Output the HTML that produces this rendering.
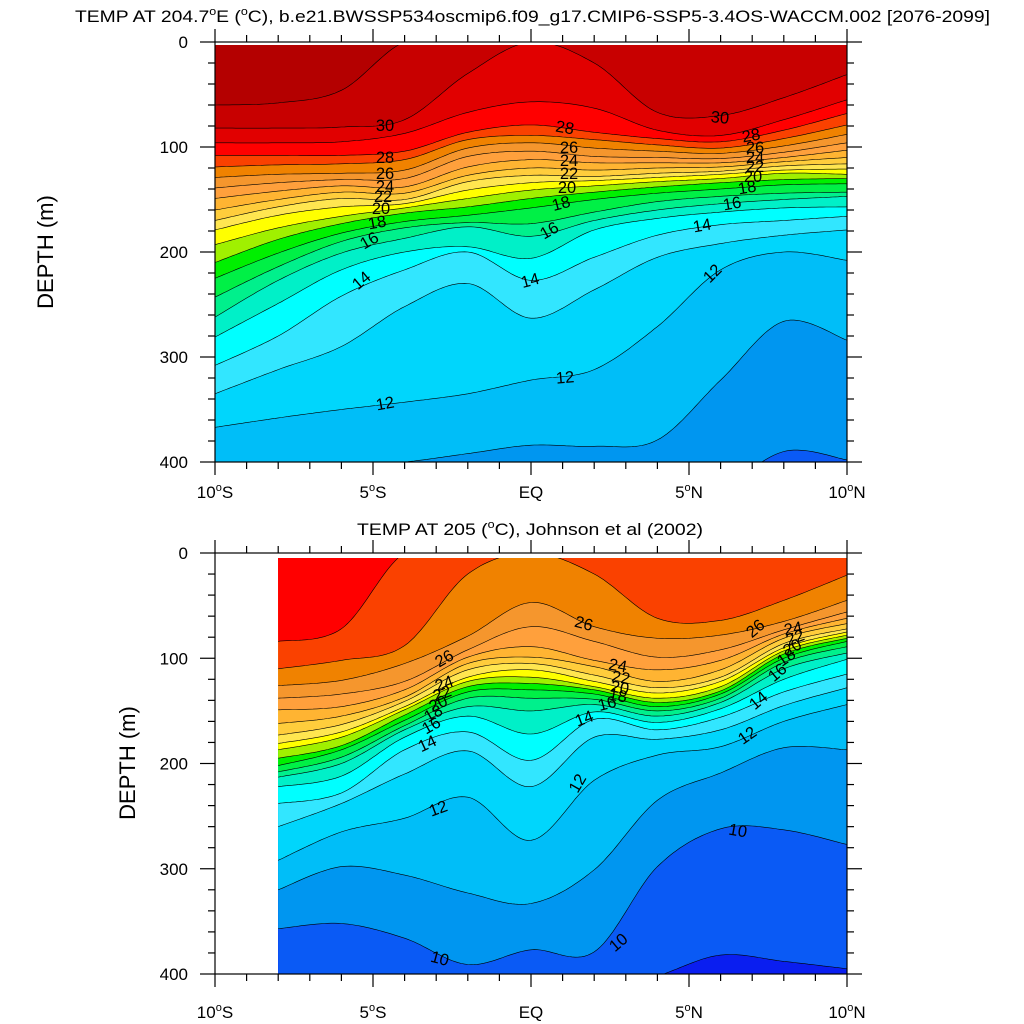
<!DOCTYPE html>
<html><head><meta charset="utf-8"><style>
html,body{margin:0;padding:0;background:#fff;}
svg{display:block;font-family:"Liberation Sans",sans-serif;}
</style></head><body>
<svg id="chart" width="1024" height="1024" viewBox="0 0 1024 1024" xmlns="http://www.w3.org/2000/svg">
<defs>
<clipPath id="clip1"><rect x="215" y="45" width="632" height="417"/></clipPath>
<clipPath id="clip2"><rect x="278" y="558" width="569" height="416"/></clipPath>
</defs>
<rect x="0" y="0" width="1024" height="1024" fill="#fff"/>
<text x="75" y="22" font-size="17" textLength="915" lengthAdjust="spacingAndGlyphs">TEMP AT 204.7<tspan font-size="11" dy="-7">o</tspan><tspan dy="7">E (</tspan><tspan font-size="11" dy="-7">o</tspan><tspan dy="7">C), b.e21.BWSSP534oscmip6.f09_g17.CMIP6-SSP5-3.4OS-WACCM.002 [2076-2099]</tspan></text>
<text x="357" y="535" font-size="17" textLength="346" lengthAdjust="spacingAndGlyphs">TEMP AT 205 (<tspan font-size="11" dy="-7">o</tspan><tspan dy="7">C), Johnson et al (2002)</tspan></text>
<g id="p1"></g>
<g id="p2"></g>
<text transform="translate(53,252) rotate(-90)" text-anchor="middle" font-size="22">DEPTH (m)</text>
<text transform="translate(135,763) rotate(-90)" text-anchor="middle" font-size="22">DEPTH (m)</text>
</svg>
<script>
// ---------- data ----------
const lats1 = [-10,-8,-6,-4,-2,0,2,4,6,8,10];
const lats2 = [-8,-6,-4,-2,0,2,4,6,8,10];
const xTickLabels = ["10°S","5°S","EQ","5°N","10°N"];
const xTickLats = [-10,-5,0,5,10];
const yTicks = [0,100,200,300,400];
// model isotherm depths (m) for each level, at lats1
const m31=[60,58,46,0,0,0,0,0,0,0,0];
const m30=[82,82,81,74,30,0,20,67,70,53,31];
const m29=[96,96,95,87,67,57,63,84,89,74,55];
const m28=[108,108,108,104,86,79,86,92,95,84,68];
const m27=[119,117,116,112,93,89,93,98,101,92,79];
const m26=[129,126,125,122,101,96,101,104,106,99,88];
const m25=[139,134,131,130,109,104,109,110,111,105,96];
const m24=[149,142,137,138,119,112,115,115,115,110,103];
const m23=[160,150,143,144,127,120,122,120,119,114,110];
const m22=[170,157,149,150,133,127,128,125,123,118,116];
const m21=[179,165,157,154,141,134,132,129,126,122,121];
const m20=[193,177,166,158,149,141,137,133,130,125,126];
const m19=[210,188,173,163,157,149,143,138,134,131,130];
const m18=[225,201,182,171,165,158,150,144,140,136,135];
const m17=[243,214,190,177,172,173,162,152,147,144,143];
const m16=[262,227,201,187,176,185,170,160,154,150,147];
const m15=[281,249,217,200,195,206,179,168,162,158,157];
const m14=[308,280,242,217,200,227,205,184,174,170,166];
const m13=[335,312,290,252,230,263,236,205,192,184,179];
const m12=[367,358,350,343,335,322,312,271,217,200,208];
const m11=[417,407,404,400,392,384,385,379,322,266,284];
const m10=[480,480,480,480,480,480,480,480,430,390,398];
// observed isotherm depths (m) at lats2
const o28=[84,72,0,0,0,0,0,0,0,0];
const o27=[110,102,88,20,0,20,62,64,45,21];
const o26=[126,121,105,79,47,70,81,78,65,45];
const o25=[138,134,122,92,70,84,99,92,73,56];
const o24=[149,146,130,99,89,102,111,102,77,62];
const o23=[162,155,137,105,99,108,122,111,81,67];
const o22=[173,163,141,111,105,116,128,118,86,72];
const o21=[181,170,146,118,111,122,133,122,90,75];
const o20=[187,175,149,122,118,127,138,127,93,78];
const o19=[195,183,154,127,124,130,142,131,96,81];
const o18=[202,187,159,132,130,134,146,134,100,84];
const o17=[208,194,164,138,138,139,150,138,104,89];
const o16=[213,200,168,146,150,144,155,142,110,95];
const o15=[222,212,175,155,172,151,161,148,120,101];
const o14=[238,228,187,170,197,158,168,156,132,115];
const o13=[260,238,210,188,222,175,177,168,145,128];
const o12=[292,265,252,232,273,216,192,184,160,144];
const o11=[320,298,306,323,333,301,235,209,185,187];
const o10=[357,352,366,391,377,379,298,262,263,277];
const o9=[420,420,420,420,420,420,402,382,388,395];
const modelLevels=[10,11,12,13,14,15,16,17,18,19,20,21,22,23,24,25,26,27,28,29,30,31];
const obsLevels=[9,10,11,12,13,14,15,16,17,18,19,20,21,22,23,24,25,26,27,28];
// colour of band [T, T+1)
const bandColors={8:"#0a1ef0",9:"#0a5af5",10:"#0096f0",11:"#00bef8",12:"#00d6fc",13:"#32e6ff",14:"#00ffff",15:"#00f0c8",16:"#00f08c",17:"#00f046",18:"#00f000",19:"#a0f000",20:"#ffff00",21:"#ffe650",22:"#ffcd3c",23:"#ffb432",24:"#ffa03c",25:"#f5962d",26:"#f08200",27:"#fa4100",28:"#ff0000",29:"#e10000",30:"#c80000",31:"#b40000"};
// contour labels [text, x, y, rotation]
const labels1=[["30",385,125,0],["30",720,117,5],["28",385,157,0],["28",565,127,10],["28",751,135,-10],["26",385,173,0],["26",569,147,0],["26",755,147,0],["24",385,186,0],["24",569,160,0],["24",755,157,0],["22",383,196,0],["22",569,173,0],["22",755,166,0],["20",381,208,0],["20",567,187,0],["20",753,176,0],["18",377,222,-10],["18",561,203,-15],["18",747,187,-10],["16",369,240,-30],["16",549,230,-30],["16",732,203,-10],["14",702,225,-10],["14",361,280,-40],["14",530,280,-15],["12",385,403,-10],["12",565,377,-5],["12",712,273,-45]];
const labels2=[["26",444,658,-30],["26",584,623,15],["26",755,628,-40],["24",444,683,-20],["24",618,665,10],["24",793,628,-10],["22",442,693,-20],["22",621,677,10],["22",795,637,-20],["20",438,703,-25],["20",620,687,10],["20",792,647,-30],["18",433,713,-30],["18",618,695,10],["18",786,657,-35],["16",431,725,-30],["16",607,703,-15],["16",777,672,-40],["14",427,743,-25],["14",584,718,-20],["14",758,700,-40],["12",747,735,-35],["12",438,808,-20],["12",577,783,-60],["10",738,830,10],["10",618,942,-40],["10",440,958,15]];

// ---------- drawing ----------
const NS="http://www.w3.org/2000/svg";
const xScale = lat => 215 + 31.6*(lat+10);
function mk(tag, attrs, parent){const e=document.createElementNS(NS,tag);for(const k in attrs)e.setAttribute(k,attrs[k]);parent.appendChild(e);return e;}
function curvePts(lats, depths, yScale, yTop, yBot){
  const P=lats.map((l,i)=>[xScale(l), yScale(depths[i])]);
  const out=[];
  for(let i=0;i<P.length-1;i++){
    const p0=P[Math.max(0,i-1)],p1=P[i],p2=P[i+1],p3=P[Math.min(P.length-1,i+2)];
    for(let s=0;s<20;s++){
      const t=s/20,t2=t*t,t3=t2*t;
      const f=(a,b,c,d)=>0.5*((2*b)+(-a+c)*t+(2*a-5*b+4*c-d)*t2+(-a+3*b-3*c+d)*t3);
      let x=f(p0[0],p1[0],p2[0],p3[0]), y=f(p0[1],p1[1],p2[1],p3[1]);
      y=Math.max(yTop-3,Math.min(yBot+30,y));
      out.push([x,y]);
    }
  }
  const last=P[P.length-1];out.push([last[0],Math.max(yTop-3,Math.min(yBot+30,last[1]))]);
  return out;
}
function drawPanel(g, cfg){
  const {lats, levels, sets, yScale, clip, x0, x1, yTop, yBot, baseBand, labels} = cfg;
  const fills=mk('g',{'clip-path':'url(#'+clip+')'},g);
  
  
  const base=mk('rect',{x:x0,y:yTop,width:x1-x0,height:yBot-yTop,fill:bandColors[baseBand]},fills);
  
  
  const lines=[];
  levels.forEach((T,i)=>{
    const pts=curvePts(lats, sets[i], yScale, yTop, yBot);
    let d='M'+x0+','+(yTop-5)+' '+pts.map(p=>'L'+p[0].toFixed(1)+','+p[1].toFixed(1)).join(' ')+' L'+x1+','+(yTop-5)+'Z';
    const band=mk('path',{d:d,fill:bandColors[T]},fills);
    
    
    lines.push([T,'M'+pts.map(p=>p[0].toFixed(1)+','+p[1].toFixed(1)).join(' L')]);
  });
  const lg=mk('g',{'clip-path':'url(#'+clip+')',fill:'none',stroke:'#000','stroke-width':'0.6'},g);
  
  
  lines.forEach(([T,d])=>{
    const c=mk('path',{d:d},lg);
    
    
  });
  labels.forEach(([t,x,y,r])=>{
    const tx=mk('text',{x:x,y:y+6,'font-size':'16.5','text-anchor':'middle',transform:'rotate('+r+' '+x+' '+y+')'},g);
    tx.textContent=t;
    
    
  });
}
function drawAxes(g, yScale, yFrame0, yFrame1, xLabelY){
  const ax=mk('g',{stroke:'#000','stroke-width':'1.2',fill:'none'},g);
  
  
  const fr=mk('rect',{x:215,y:yFrame0,width:632,height:yFrame1-yFrame0},ax);
  
  
  for(let lat=-10;lat<=10;lat++){
    const x=xScale(lat), L=(lat%5===0)?13:7;
    mk('line',{x1:x,y1:yFrame1,x2:x,y2:yFrame1+L},ax);
    mk('line',{x1:x,y1:yFrame0,x2:x,y2:yFrame0-L},ax);
  }
  for(let dd=0;dd<=400;dd+=20){
    const y=yScale(dd), L=(dd%100===0)?15:7;
    mk('line',{x1:215,y1:y,x2:215-L,y2:y},ax);
    mk('line',{x1:847,y1:y,x2:847+L,y2:y},ax);
  }
  yTicks.forEach(v=>{
    const t=mk('text',{x:188,y:yScale(v)+6,'font-size':'17','text-anchor':'end'},g);
    t.textContent=String(v);
    
    
  });
  xTickLats.forEach((lat,i)=>{
    const s=xTickLabels[i];
    const t=mk('text',{x:xScale(lat),y:xLabelY,'font-size':'17','text-anchor':'middle'},g);
    if(s.indexOf('°')>=0){
      const parts=s.split('°');
      const a=mk('tspan',{},t);a.textContent=parts[0];
      const b=mk('tspan',{'font-size':'11',dy:'-7'},t);b.textContent='o';
      const c=mk('tspan',{dy:'7'},t);c.textContent=parts[1];
    } else t.textContent=s;
    
    
  });
}
const y1=d=>42+1.05*d;
const y2=d=>553+1.0525*d;
drawPanel(document.getElementById('p1'),{lats:lats1,levels:modelLevels,
  sets:[m10,m11,m12,m13,m14,m15,m16,m17,m18,m19,m20,m21,m22,m23,m24,m25,m26,m27,m28,m29,m30,m31],
  yScale:y1,clip:'clip1',x0:215,x1:847,yTop:45,yBot:462,baseBand:9,labels:labels1});
drawAxes(document.getElementById('p1'),y1,42,462,498);
drawPanel(document.getElementById('p2'),{lats:lats2,levels:obsLevels,
  sets:[o9,o10,o11,o12,o13,o14,o15,o16,o17,o18,o19,o20,o21,o22,o23,o24,o25,o26,o27,o28],
  yScale:y2,clip:'clip2',x0:278,x1:847,yTop:558,yBot:974,baseBand:8,labels:labels2});
drawAxes(document.getElementById('p2'),y2,553,974,1018);
</script>
</body></html>
